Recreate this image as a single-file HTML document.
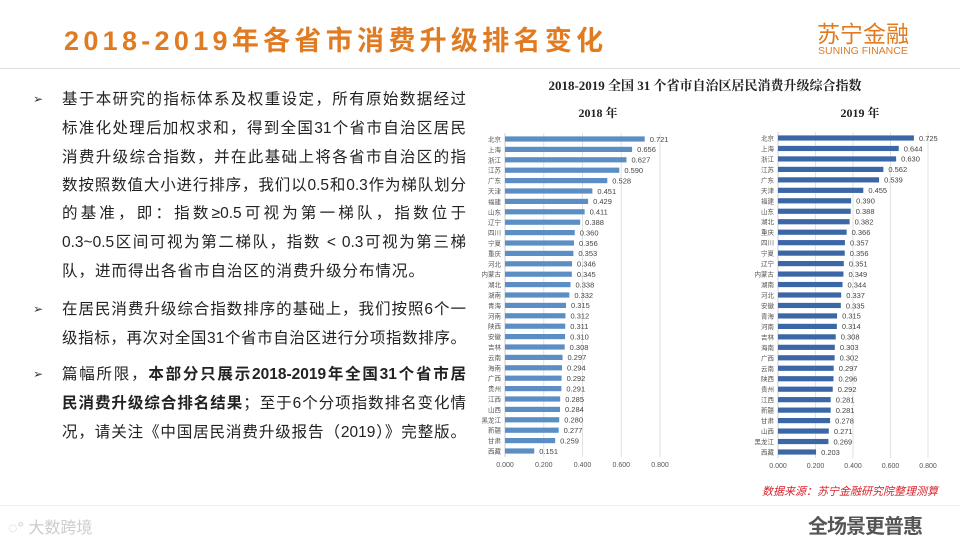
<!DOCTYPE html>
<html><head><meta charset="utf-8">
<style>
body{margin:0;width:960px;height:540px;background:#fff;position:relative;overflow:hidden;font-family:"Liberation Sans","Noto Sans CJK SC",sans-serif}
.title{position:absolute;left:64px;top:19px;font-size:27px;font-weight:bold;color:#e07b22;letter-spacing:4.3px;white-space:nowrap}
.logo{position:absolute;left:817px;top:15px;color:#e07b22;font-size:23px;letter-spacing:0px}
.logo2{position:absolute;left:818px;top:45px;color:#e07b22;font-size:10.5px}
.hr{position:absolute;left:0;width:960px;height:1px;background:#ddd}
.txt{position:absolute;left:62px;font-size:15.5px;color:#222;white-space:nowrap;letter-spacing:1px;line-height:20px}
.full{width:404px;text-align:justify;text-align-last:justify;letter-spacing:0}
.bul{position:absolute;left:33px;font-size:12px;color:#333}
</style></head><body>
<div class="title">2018-2019年各省市消费升级排名变化</div>
<div class="logo">苏宁金融</div>
<div class="logo2">SUNING FINANCE</div>
<div class="hr" style="top:68px"></div>
<div class="hr" style="top:505px;background:#eee"></div>

<div>
<div class="bul" style="top:92px">➢</div>
<div class="txt full" style="top:90px">基于本研究的指标体系及权重设定，所有原始数据经过</div>
<div class="txt full" style="top:119px">标准化处理后加权求和，得到全国31个省市自治区居民</div>
<div class="txt full" style="top:148px">消费升级综合指数，并在此基础上将各省市自治区的指</div>
<div class="txt full" style="top:176px">数按照数值大小进行排序，我们以0.5和0.3作为梯队划分</div>
<div class="txt full" style="top:204px">的基准，即：指数≥0.5可视为第一梯队，指数位于</div>
<div class="txt full" style="top:233px">0.3~0.5区间可视为第二梯队，指数 &lt; 0.3可视为第三梯</div>
<div class="txt" style="top:262px">队，进而得出各省市自治区的消费升级分布情况。</div>
<div class="bul" style="top:302px">➢</div>
<div class="txt full" style="top:300px">在居民消费升级综合指数排序的基础上，我们按照6个一</div>
<div class="txt full" style="top:329px">级指标，再次对全国31个省市自治区进行分项指数排序。</div>
<div class="bul" style="top:367px">➢</div>
<div class="txt full" style="top:365px">篇幅所限，<b>本部分只展示2018-2019年全国31个省市居</b></div>
<div class="txt full" style="top:394px"><b>民消费升级综合排名结果</b>；至于6个分项指数排名变化情</div>
<div class="txt full" style="top:423px">况，请关注《中国居民消费升级报告（2019）》完整版。</div>
</div>

<svg id="chart" width="960" height="540" style="position:absolute;left:0;top:0">
<text x="705" y="90" font-size="13" font-weight="bold" text-anchor="middle" font-family="Liberation Serif,Noto Serif CJK SC,serif" fill="#222">2018-2019 全国 31 个省市自治区居民消费升级综合指数</text>
<text x="598" y="117" font-size="12" font-weight="bold" text-anchor="middle" font-family="Liberation Serif,Noto Serif CJK SC,serif" fill="#222">2018 年</text>
<text x="860" y="117" font-size="12" font-weight="bold" text-anchor="middle" font-family="Liberation Serif,Noto Serif CJK SC,serif" fill="#222">2019 年</text>
<g id="g18"></g><g id="g19"></g>
<text x="938" y="495" font-size="11" font-style="italic" text-anchor="end" fill="#d9222a">数据来源：苏宁金融研究院整理测算</text>
</svg>
<div style="position:absolute;left:8px;top:514px;font-size:16px;color:#ccc">◌° 大数跨境</div>
<div style="position:absolute;left:808px;top:510px;font-size:20px;color:#555;font-weight:bold;letter-spacing:-1px">全场景更普惠</div>

<script>
const prov18 = ["北京","上海","浙江","江苏","广东","天津","福建","山东","辽宁","四川","宁夏","重庆","河北","内蒙古","湖北","湖南","青海","河南","陕西","安徽","吉林","云南","海南","广西","贵州","江西","山西","黑龙江","新疆","甘肃","西藏"];
const val18 = [0.721,0.656,0.627,0.590,0.528,0.451,0.429,0.411,0.388,0.360,0.356,0.353,0.346,0.345,0.338,0.332,0.315,0.312,0.311,0.310,0.308,0.297,0.294,0.292,0.291,0.285,0.284,0.280,0.277,0.259,0.151];
const prov19 = ["北京","上海","浙江","江苏","广东","天津","福建","山东","湖北","重庆","四川","宁夏","辽宁","内蒙古","湖南","河北","安徽","青海","河南","吉林","海南","广西","云南","陕西","贵州","江西","新疆","甘肃","山西","黑龙江","西藏"];
const val19 = [0.725,0.644,0.630,0.562,0.539,0.455,0.390,0.388,0.382,0.366,0.357,0.356,0.351,0.349,0.344,0.337,0.335,0.315,0.314,0.308,0.303,0.302,0.297,0.296,0.292,0.281,0.281,0.278,0.271,0.269,0.203];
const ticks = [0,0.2,0.4,0.6,0.8];
const tickLabels = ["0.000","0.200","0.400","0.600","0.800"];
const NS="http://www.w3.org/2000/svg";
function mk(tag,attrs,parent){const e=document.createElementNS(NS,tag);for(const k in attrs)e.setAttribute(k,attrs[k]);parent.appendChild(e);return e;}
function draw(gid,prov,vals,x0,x1,y0,y1,color,key){
  const g=document.getElementById(gid);
  const xs=v=>x0+(x1-x0)*v/0.8;
  const step=(y1-y0)/(prov.length-1);
  const ys=i=>y0+i*step;
  ticks.forEach((t,i)=>{
    if(i>0){const l=mk('line',{x1:xs(t),x2:xs(t),y1:y0-6,y2:y1+6,stroke:'#e2e2e2','stroke-width':1},g);
    
    }
    const tx=mk('text',{x:xs(t),y:y1+16,'font-size':7,'text-anchor':'middle',fill:'#555'},g);
    tx.textContent=tickLabels[i];
    
    
  });
  const ax=mk('line',{x1:x0,x2:x0,y1:y0-6,y2:y1+6,stroke:'#ccc','stroke-width':1},g);
  
  
  prov.forEach((p,i)=>{
    const y=ys(i);
    const r=mk('rect',{x:x0,y:y-2.6,width:xs(vals[i])-x0,height:5.2,fill:color},g);
    
    
    const lb=mk('text',{x:x0-4,y:y+2.5,'font-size':6.5,'text-anchor':'end',fill:'#555'},g);
    lb.textContent=p;
    
    
    const vl=mk('text',{x:xs(vals[i])+5,y:y+2.8,'font-size':7.5,fill:'#444'},g);
    vl.textContent=vals[i].toFixed(3);
    
    
  });
}
draw('g18',prov18,val18,505,660,139,451,'#5a8ec4','2018');
draw('g19',prov19,val19,778,928,138,452,'#3c67a6','2019');
</script>
</body></html>
